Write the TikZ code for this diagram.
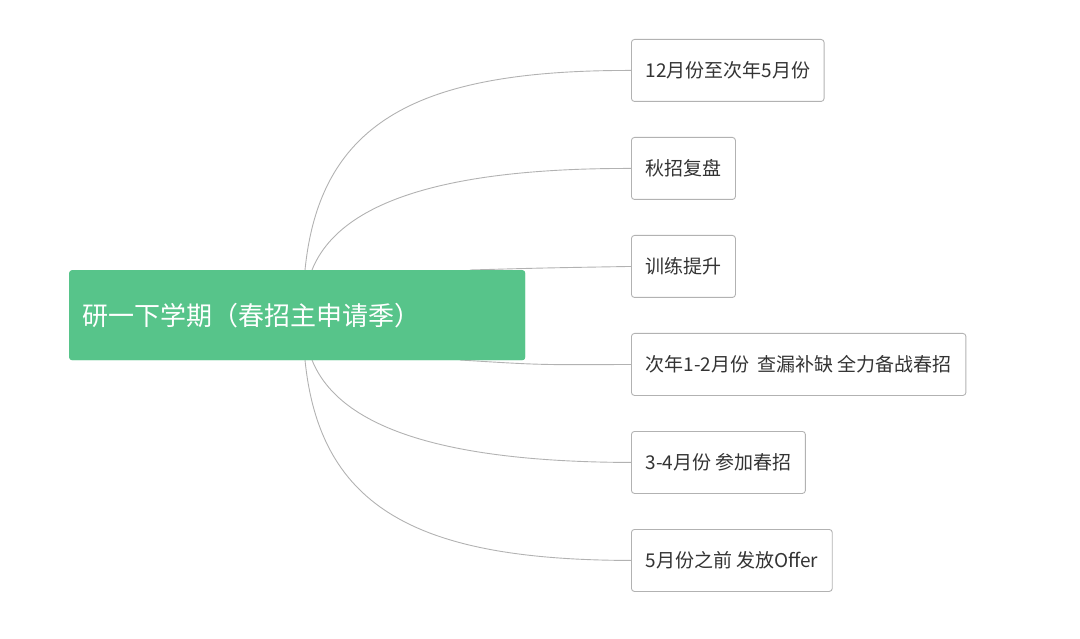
\documentclass[tikz,border=0pt]{standalone}
\usepackage{fontspec}
\setmainfont{Noto Sans CJK SC}
\begin{document}
\begin{tikzpicture}[x=1pt,y=-1pt,
  child/.style={draw=black!30,rounded corners=3pt,line width=0.9pt,anchor=north west,minimum height=62pt,inner xsep=14pt,font=\fontsize{19}{22}\selectfont,text=black!80},
  link/.style={draw=black!30,line width=0.9pt}]
\useasboundingbox (0,0) rectangle (1080,639);
\definecolor{rootg}{HTML}{57C48A}
\node[fill=rootg,rounded corners=3pt,minimum width=456pt,minimum height=90pt,anchor=north west,text=white,font=\fontsize{26}{30}\selectfont,align=left,text width=430pt] (root) at (69,270) {研一下学期（春招主申请季）};
\node[child] (c1) at (631,39) {12月份至次年5月份};
\node[child] (c2) at (631,137) {秋招复盘};
\node[child] (c3) at (631,235) {训练提升};
\node[child] (c4) at (631,333) {次年1-2月份\ \ 查漏补缺 全力备战春招};
\node[child] (c5) at (631,431) {3-4月份 参加春招};
\node[child] (c6) at (631,529) {5月份之前 发放Offer};
\coordinate (t1) at (305,270);
\coordinate (t2) at (312,270);
\coordinate (t3) at (470,270);
\coordinate (b4) at (460,360);
\coordinate (b5) at (312,360);
\coordinate (b6) at (305,360);
\begin{scope}[on background layer/.style={}]
\draw[link] (t1) .. controls (320,120) and (420,70) .. (c1.west);
\draw[link] (t2) .. controls (340,200) and (450,168) .. (c2.west);
\draw[link] (t3) .. controls (540,268) .. (c3.west);
\draw[link] (b4) .. controls (540,365) .. (c4.west);
\draw[link] (b5) .. controls (340,430) and (450,462) .. (c5.west);
\draw[link] (b6) .. controls (320,510) and (420,560) .. (c6.west);
\end{scope}
\node[fill=rootg,rounded corners=3pt,minimum width=456pt,minimum height=90pt,anchor=north west,text=white,font=\fontsize{26}{30}\selectfont,align=left,text width=430pt] at (69,270) {研一下学期（春招主申请季）};
\end{tikzpicture}
\end{document}
